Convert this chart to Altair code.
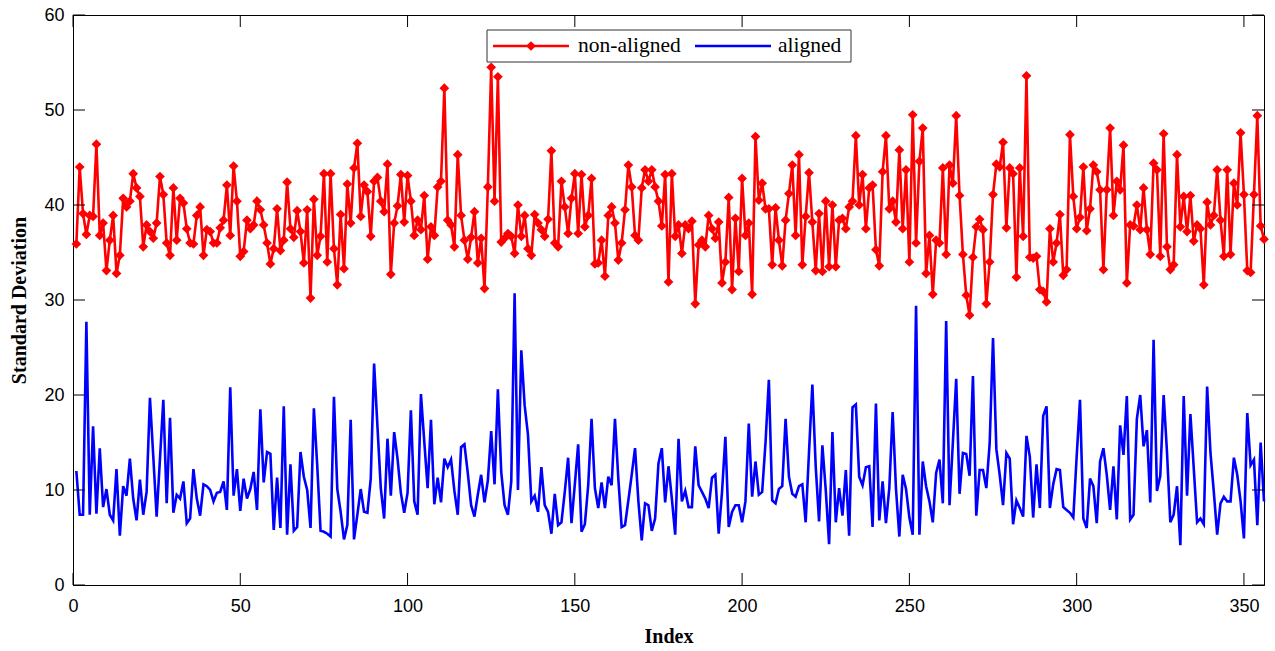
import altair as alt
import pandas as pd

non_aligned = [
35.9,44.0,39.1,36.9,38.9,38.8,46.4,36.8,38.1,33.1,36.3,38.9,32.8,34.7,40.7,39.8,40.4,43.3,41.8,40.9,
35.6,37.9,37.2,36.5,38.1,43.0,41.1,36.0,34.7,41.8,36.3,40.7,40.2,37.5,36.0,35.9,38.9,39.8,34.7,37.4,
37.2,36.0,36.0,37.6,38.4,42.1,36.8,44.1,40.4,34.6,35.1,38.4,37.5,37.9,40.4,39.5,37.9,36.0,33.8,35.4,
39.6,35.2,36.3,42.4,37.5,36.6,39.4,37.2,33.9,39.5,30.2,40.6,34.7,36.7,43.3,34.0,43.3,35.4,31.6,39.0,
33.3,42.2,38.1,43.9,46.5,38.8,42.1,41.4,36.7,42.5,42.9,40.4,39.3,44.3,32.7,38.1,39.9,43.2,38.2,43.1,
40.4,36.8,38.4,37.4,41.0,34.3,37.7,36.8,41.9,42.5,52.3,38.4,37.9,35.6,45.3,38.9,36.3,34.3,36.6,39.3,
33.9,36.5,31.2,41.9,54.5,40.4,53.5,36.1,36.5,37.0,36.7,34.9,40.0,36.7,38.9,35.4,34.7,39.0,38.1,37.4,
36.7,38.5,45.7,36.0,35.6,42.5,39.8,37.0,40.7,43.3,37.0,43.2,37.7,38.9,42.8,33.8,33.9,36.3,32.5,38.9,
39.8,38.1,34.2,36.0,39.5,44.2,41.9,36.8,36.3,41.8,43.7,42.5,43.7,41.9,40.4,37.8,43.2,31.9,43.3,36.7,
37.9,34.9,37.9,37.5,38.3,29.6,35.8,36.3,35.6,38.9,37.5,36.5,38.2,31.8,34.0,40.8,31.1,38.6,33.0,42.8,
36.8,38.1,30.6,47.2,40.5,42.3,39.6,39.6,33.7,39.7,36.3,33.6,38.4,41.2,44.2,36.8,45.3,33.7,38.8,43.4,
38.2,33.1,39.1,33.0,40.4,33.5,40.0,33.5,38.4,38.6,37.5,39.8,40.4,47.3,40.0,43.2,37.5,41.8,42.1,35.3,
33.6,43.5,47.3,39.6,40.4,38.2,45.8,37.5,43.7,34.0,49.5,36.0,44.6,48.1,32.8,36.8,30.6,36.3,36.0,43.9,
34.8,44.2,42.3,49.4,41.0,34.8,30.5,28.4,34.5,37.7,38.5,37.4,29.6,34.0,41.1,44.3,44.0,46.6,37.6,43.9,
43.3,32.4,43.9,36.7,53.6,34.5,34.4,34.6,31.1,30.9,29.8,37.5,34.0,36.0,39.0,32.6,33.2,47.4,40.9,37.5,
38.7,44.0,37.3,39.6,44.2,43.5,41.6,33.2,41.6,48.1,38.9,42.5,41.6,46.3,31.8,37.9,37.8,40.0,37.4,41.8,
37.4,34.8,44.4,43.7,34.6,47.5,35.6,33.2,33.7,45.3,37.7,40.9,37.2,41.0,36.2,37.9,37.5,31.6,40.3,37.9,
38.9,43.7,38.4,34.6,43.7,34.8,42.3,40.0,47.6,41.1,33.1,32.9,41.1,49.4,37.8,36.4]

aligned = [
12.0,7.4,7.4,27.7,7.4,16.7,7.5,14.4,8.2,10.1,7.4,6.8,12.2,5.2,10.4,9.4,13.3,9.1,6.8,11.1,
7.4,9.8,19.7,13.5,7.2,13.3,19.5,8.6,17.6,7.6,9.5,9.1,10.9,6.5,7.0,12.2,9.1,7.3,10.6,10.4,
10.0,8.8,9.7,9.8,10.9,7.9,20.8,9.4,12.2,7.8,11.2,9.1,10.1,11.9,7.9,18.5,10.8,14.0,13.8,5.8,
11.3,6.0,18.8,5.3,12.7,5.7,6.1,14.0,11.4,10.0,6.0,18.6,12.6,5.7,5.6,5.4,5.1,19.8,10.1,7.7,
4.8,6.3,17.4,4.8,7.4,10.1,7.7,7.6,11.2,23.3,16.7,10.2,7.0,15.4,9.4,16.1,13.3,9.7,7.6,9.7,
18.4,8.8,7.4,20.1,15.1,10.2,17.4,8.5,11.3,8.7,13.3,12.4,13.2,9.9,7.4,14.5,14.8,11.8,8.4,7.2,
9.5,11.6,8.7,11.0,16.2,10.6,20.6,11.9,8.4,7.4,10.9,30.7,10.0,24.7,18.9,15.8,8.8,9.4,7.7,12.4,
8.4,7.7,5.4,9.6,6.3,6.6,9.8,13.4,6.5,10.6,14.8,5.6,6.4,10.5,17.5,10.2,8.1,10.8,8.1,11.4,
10.5,17.5,11.2,6.1,6.3,8.9,11.6,14.4,8.8,4.7,8.6,8.4,5.7,7.0,12.8,14.4,8.7,12.5,9.1,5.3,
15.4,8.8,9.9,8.2,8.2,14.6,10.5,9.8,9.1,8.1,11.3,11.6,5.4,9.8,15.6,6.1,7.7,8.4,8.4,6.6,
8.8,17.0,9.3,13.0,9.5,9.8,15.0,21.6,8.9,8.6,10.1,10.4,17.5,11.4,9.6,9.3,10.4,10.6,6.6,14.0,
21.1,12.5,6.7,14.7,10.0,4.3,16.1,6.6,10.2,7.3,12.1,5.2,18.7,19.0,11.4,10.5,12.4,12.5,6.1,19.1,
6.8,10.9,6.5,10.2,18.2,10.1,5.1,11.6,10.1,7.1,5.3,29.4,5.3,13.0,10.4,8.8,6.6,11.8,13.2,8.6,
27.8,8.4,15.0,21.7,9.6,13.9,13.8,11.5,22.0,7.3,12.1,12.1,10.2,14.9,26.0,14.3,11.6,8.4,13.9,13.3,
6.4,8.9,8.1,7.2,15.7,13.5,7.1,12.7,8.1,17.8,18.8,8.1,10.6,12.2,12.1,8.2,7.9,7.6,7.1,13.5,
19.5,7.0,6.0,11.2,10.4,6.5,13.0,14.4,11.6,7.9,12.5,6.9,16.8,13.7,19.9,6.9,7.4,17.5,20.0,14.6,
16.3,8.7,25.8,9.9,11.5,20.0,14.0,6.6,7.4,10.4,4.2,19.9,9.4,18.0,12.3,6.6,7.0,6.4,20.9,13.9,
9.8,5.3,8.6,9.3,8.8,8.8,13.4,11.6,8.8,4.9,18.1,12.6,13.2,6.3,15.0,8.8]

x_ticks = [0, 50, 100, 150, 200, 250, 300, 350]
y_ticks = [0, 10, 20, 30, 40, 50, 60]
series_names = ["non-aligned", "aligned"]
series_colors = ["#ff0000", "#0000ff"]

W, H = 1191, 570
SERIF = "Liberation Serif"
SANS = "Liberation Sans"

df_red = pd.DataFrame({"index": list(range(1, len(non_aligned) + 1)), "value": non_aligned})
df_blue = pd.DataFrame({"index": list(range(1, len(aligned) + 1)), "value": aligned})

xscale = alt.Scale(domain=[0, 356], nice=False, zero=False)
yscale = alt.Scale(domain=[0, 60], nice=False)

x_enc = alt.X("index:Q", scale=xscale, title="Index",
              axis=alt.Axis(values=x_ticks, tickSize=0, labelPadding=12, labelFont=SANS,
                            labelFontSize=18, labelColor="black", titleFont=SERIF,
                            titleFontSize=20, titleFontWeight="bold", titleColor="black",
                            titlePadding=11, domainColor="black", grid=False, labelFlush=False))
y_enc = alt.Y("value:Q", scale=yscale, title="Standard Deviation",
              axis=alt.Axis(values=y_ticks, tickSize=0, labelPadding=9, labelFont=SANS,
                            labelFontSize=18, labelColor="black", titleFont=SERIF,
                            titleFontSize=20, titleFontWeight="bold", titleColor="black",
                            titlePadding=14, domainColor="black", grid=False))

blue_line = alt.Chart(df_blue).mark_line(color=series_colors[1], strokeWidth=2.6).encode(x=x_enc, y=y_enc)
red_line = alt.Chart(df_red).mark_line(color=series_colors[0], strokeWidth=2.6).encode(x="index:Q", y="value:Q")
red_pts = alt.Chart(df_red).mark_point(shape="diamond", filled=True, color=series_colors[0],
                                       size=95, opacity=1).encode(x="index:Q", y="value:Q")

# inward ticks on all four sides
xt = pd.DataFrame({"t": x_ticks})
yt = pd.DataFrame({"t": y_ticks})
tick_style = dict(color="black", strokeWidth=1)
xb = alt.Chart(xt).mark_rule(**tick_style).encode(x="t:Q", y=alt.value(H), y2=alt.value(H - 12))
xtop = alt.Chart(xt).mark_rule(**tick_style).encode(x="t:Q", y=alt.value(0), y2=alt.value(12))
yl = alt.Chart(yt).mark_rule(**tick_style).encode(y=alt.Y("t:Q"), x=alt.value(0), x2=alt.value(12))
yr = alt.Chart(yt).mark_rule(**tick_style).encode(y=alt.Y("t:Q"), x=alt.value(W), x2=alt.value(W - 12))

# legend
one = pd.DataFrame({"a": [0]})
leg_box = alt.Chart(one).mark_rect(fill="white", stroke="#333333", strokeWidth=1).encode(
    x=alt.value(414), x2=alt.value(778), y=alt.value(15), y2=alt.value(47))
leg_red = alt.Chart(one).mark_rule(color=series_colors[0], strokeWidth=2.6).encode(
    x=alt.value(420), x2=alt.value(496), y=alt.value(31))
leg_red_pt = alt.Chart(one).mark_point(shape="diamond", filled=True, color=series_colors[0],
                                       size=95, opacity=1).encode(x=alt.value(458), y=alt.value(31))
leg_blue = alt.Chart(one).mark_rule(color=series_colors[1], strokeWidth=2.6).encode(
    x=alt.value(622), x2=alt.value(698), y=alt.value(31))
leg_t1 = alt.Chart(one).mark_text(text=series_names[0], font=SERIF, fontSize=21.5, align="left",
                                  baseline="middle", color="black").encode(x=alt.value(505), y=alt.value(31))
leg_t2 = alt.Chart(one).mark_text(text=series_names[1], font=SERIF, fontSize=21.5, align="left",
                                  baseline="middle", color="black").encode(x=alt.value(705), y=alt.value(31))

chart = alt.layer(
    blue_line, red_line, red_pts, xb, xtop, yl, yr,
    leg_box, leg_red, leg_red_pt, leg_blue, leg_t1, leg_t2
).properties(
    width=W, height=H,
    autosize=alt.AutoSizeParams(type="none"),
    padding={"left": 73, "top": 15, "right": 11, "bottom": 66},
    background="white"
).configure_view(stroke="black", strokeWidth=1)

chart.save("out.html", embed_options={"renderer": "svg", "actions": False})
